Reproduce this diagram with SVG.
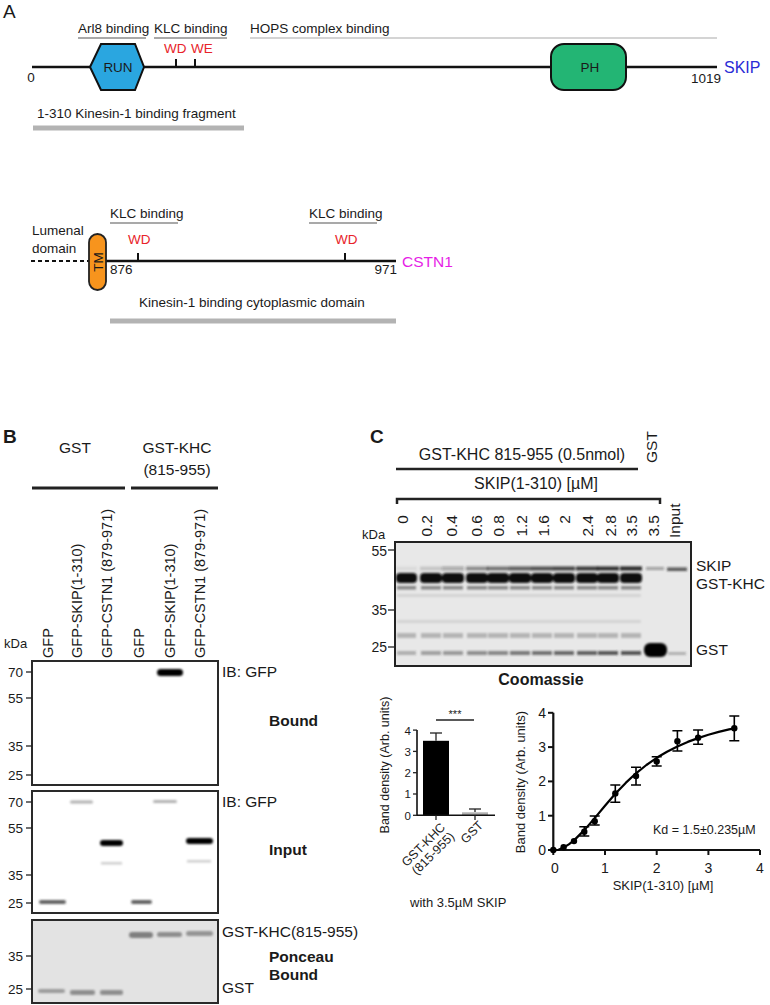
<svg xmlns="http://www.w3.org/2000/svg" width="770" height="1005" viewBox="0 0 770 1005">
<defs>
<style>
text{font-family:"Liberation Sans",Arial,sans-serif;fill:#1a1a1a}
.s12{font-size:12.5px}
.s13{font-size:13px}
.s135{font-size:13.5px}
.s14{font-size:14px}
.s155{font-size:15.5px}
.s16{font-size:16px}
.bold{font-weight:bold}
.red{fill:#e8232a}
.mid{text-anchor:middle}
.end{text-anchor:end}
.gline{stroke:#8c8c8c;stroke-width:1.3;fill:none}
.hline{stroke:#c6c6c6;stroke-width:1.6;fill:none}
.gbar{stroke:#b3b3b3;stroke-width:5;fill:none}
.main{stroke:#111;stroke-width:2.5;fill:none}
.tick{stroke:#111;stroke-width:2;fill:none}
.ax{stroke:#111;stroke-width:2;fill:none}
.thin{stroke:#222;stroke-width:1.3;fill:none}
.blot{fill:#fff;stroke:#2a2a2a;stroke-width:2}
.band{filter:url(#bl)}
</style>
<filter id="bl" x="-30%" y="-150%" width="160%" height="400%"><feGaussianBlur stdDeviation="1.1"/></filter>
</defs>

<!-- Panel A : SKIP -->
<g id="panelA-label"><text x="3" y="18" style="font-size:19px">A</text></g>
<g id="skip-protein">
  <text x="78" y="33" class="s135">Arl8 binding</text>
  <text x="154" y="33" class="s135">KLC binding</text>
  <text x="250" y="33" class="s135">HOPS complex binding</text>
  <line x1="78" y1="38" x2="146" y2="38" class="gline"/>
  <line x1="154" y1="38" x2="227" y2="38" class="gline"/>
  <line x1="250" y1="38" x2="717" y2="38" class="hline"/>
  <text x="164" y="53" class="s135 red">WD</text>
  <text x="191" y="53" class="s135 red">WE</text>
  <line x1="32" y1="67" x2="717" y2="67" class="main"/>
  <line x1="176" y1="59" x2="176" y2="67" class="tick"/>
  <line x1="195" y1="59" x2="195" y2="67" class="tick"/>
  <polygon points="90,67 101,44 135,44 144,67 135,90 101,90" fill="#2aa6e0" stroke="#111" stroke-width="2"/>
  <text x="118" y="72" class="s135 mid">RUN</text>
  <rect x="551" y="44" width="75" height="46" rx="13" fill="#23b574" stroke="#111" stroke-width="2"/>
  <text x="590" y="72" class="s135 mid">PH</text>
  <text x="31" y="82" class="s135 mid">0</text>
  <text x="721" y="83" class="s135 end">1019</text>
  <text x="724" y="73" class="s16" style="fill:#2b2bd6">SKIP</text>
  <text x="37" y="118" class="s135">1-310 Kinesin-1 binding fragment</text>
  <line x1="33" y1="128" x2="244" y2="128" class="gbar"/>
</g>

<!-- CSTN1 -->
<g id="cstn1-protein">
  <text x="110" y="218" class="s135">KLC binding</text>
  <text x="309" y="218" class="s135">KLC binding</text>
  <line x1="110" y1="223" x2="178" y2="223" class="gline"/>
  <line x1="309" y1="223" x2="377" y2="223" class="gline"/>
  <text x="32" y="235" class="s135">Lumenal</text>
  <text x="32" y="253" class="s135">domain</text>
  <text x="128" y="244" class="s135 red">WD</text>
  <text x="335" y="244" class="s135 red">WD</text>
  <line x1="31" y1="261" x2="89" y2="261" stroke="#111" stroke-width="2" stroke-dasharray="4,3"/>
  <line x1="106" y1="261" x2="396" y2="261" class="main"/>
  <line x1="138" y1="253" x2="138" y2="261" class="tick"/>
  <line x1="345" y1="253" x2="345" y2="261" class="tick"/>
  <rect x="89" y="234" width="17" height="56" rx="8.5" fill="#f7941d" stroke="#222" stroke-width="1.8"/>
  <text transform="translate(102.8,262) rotate(-90)" class="s135 mid">TM</text>
  <text x="110" y="274" class="s135">876</text>
  <text x="397" y="274" class="s135 end">971</text>
  <text x="402" y="267" class="s155" style="fill:#e61ee6">CSTN1</text>
  <text x="139" y="307" class="s135">Kinesin-1 binding cytoplasmic domain</text>
  <line x1="110" y1="321" x2="396" y2="321" class="gbar"/>
</g>

<!-- Panel B -->
<g id="panelB-header">
  <text x="3" y="443" class="bold" style="font-size:19px">B</text>
  <text x="75" y="453" class="s155 mid">GST</text>
  <text x="177" y="453" class="s155 mid">GST-KHC</text>
  <text x="177" y="475" class="s155 mid">(815-955)</text>
  <line x1="32" y1="488" x2="125" y2="488" stroke="#222" stroke-width="3"/>
  <line x1="131" y1="488" x2="218" y2="488" stroke="#222" stroke-width="3"/>
  <g style="font-size:14.5px">
    <text transform="translate(53,658) rotate(-90)">GFP</text>
    <text transform="translate(82,658) rotate(-90)">GFP-SKIP(1-310)</text>
    <text transform="translate(112,658) rotate(-90)">GFP-CSTN1 (879-971)</text>
    <text transform="translate(144,658) rotate(-90)">GFP</text>
    <text transform="translate(175,658) rotate(-90)">GFP-SKIP(1-310)</text>
    <text transform="translate(205,658) rotate(-90)">GFP-CSTN1 (879-971)</text>
  </g>
  <text x="4" y="648" class="s13">kDa</text>
</g>

<g id="blot-bound">
  <rect x="32" y="661" width="186" height="124" class="blot"/>
  <rect x="157" y="669" width="26" height="7" rx="3.5" fill="#000" class="band"/>
  <g class="thin">
    <line x1="26" y1="672" x2="32" y2="672"/><line x1="26" y1="698" x2="32" y2="698"/>
    <line x1="26" y1="746" x2="32" y2="746"/><line x1="26" y1="775" x2="32" y2="775"/>
  </g>
  <g class="s135 end">
    <text x="23" y="677">70</text><text x="23" y="703">55</text>
    <text x="23" y="751">35</text><text x="23" y="780">25</text>
  </g>
  <text x="222" y="677" class="s155">IB: GFP</text>
  <text x="269" y="726" class="s155 bold">Bound</text>
</g>

<g id="blot-input">
  <rect x="32" y="791" width="186" height="122" class="blot"/>
  <rect x="70" y="800.5" width="23" height="3" rx="1.5" fill="#555" opacity="0.45" class="band"/>
  <rect x="153" y="800" width="24" height="3" rx="1.5" fill="#555" opacity="0.45" class="band"/>
  <rect x="100" y="840" width="23" height="6" rx="3" fill="#000" class="band"/>
  <rect x="186" y="838" width="27" height="6" rx="3" fill="#000" class="band"/>
  <rect x="101" y="862" width="21" height="2.5" fill="#888" opacity="0.4" class="band"/>
  <rect x="187" y="860" width="24" height="2.5" fill="#888" opacity="0.4" class="band"/>
  <rect x="39" y="900" width="27" height="4" rx="2" fill="#333" opacity="0.75" class="band"/>
  <rect x="131" y="900" width="21" height="4" rx="2" fill="#333" opacity="0.75" class="band"/>
  <g class="thin">
    <line x1="26" y1="802" x2="32" y2="802"/><line x1="26" y1="828" x2="32" y2="828"/>
    <line x1="26" y1="875" x2="32" y2="875"/><line x1="26" y1="903" x2="32" y2="903"/>
  </g>
  <g class="s135 end">
    <text x="23" y="807">70</text><text x="23" y="833">55</text>
    <text x="23" y="880">35</text><text x="23" y="908">25</text>
  </g>
  <text x="222" y="807" class="s155">IB: GFP</text>
  <text x="269" y="855" class="s155 bold">Input</text>
</g>

<g id="blot-ponceau">
  <rect x="32" y="920" width="186" height="83" class="blot" style="fill:#e3e3e3"/>
  <rect x="129" y="932" width="24" height="6" rx="3" fill="#555" opacity="0.7" class="band"/>
  <rect x="157" y="932" width="25" height="5" rx="2.5" fill="#555" opacity="0.6" class="band"/>
  <rect x="186" y="931" width="27" height="5" rx="2.5" fill="#555" opacity="0.55" class="band"/>
  <rect x="38" y="989" width="27" height="4" rx="2" fill="#555" opacity="0.5" class="band"/>
  <rect x="70" y="990" width="25" height="5" rx="2" fill="#555" opacity="0.6" class="band"/>
  <rect x="100" y="990" width="23" height="5" rx="2" fill="#555" opacity="0.6" class="band"/>
  <g class="thin">
    <line x1="26" y1="956" x2="32" y2="956"/><line x1="26" y1="989" x2="32" y2="989"/>
  </g>
  <g class="s135 end">
    <text x="23" y="961">35</text><text x="23" y="994">25</text>
  </g>
  <text x="222" y="937" class="s155">GST-KHC(815-955)</text>
  <text x="269" y="962" class="s155 bold">Ponceau</text>
  <text x="269" y="980" class="s155 bold">Bound</text>
  <text x="222" y="993" class="s155">GST</text>
</g>

<!-- Panel C -->
<g id="panelC-header">
  <text x="370" y="443" class="bold" style="font-size:19px">C</text>
  <text x="522" y="460" class="s16 mid">GST-KHC 815-955 (0.5nmol)</text>
  <line x1="396" y1="469" x2="638" y2="469" stroke="#222" stroke-width="2.5"/>
  <text transform="translate(656.5,463) rotate(-90)" class="s155">GST</text>
  <text x="536" y="489" class="s16 mid">SKIP(1-310) [µM]</text>
  <path d="M397,504 V499 H660 V504" stroke="#222" stroke-width="2.5" fill="none"/>
  <g class="s155 end">
    <text transform="translate(407.5,515) rotate(-90)">0</text>
    <text transform="translate(431.5,515) rotate(-90)">0.2</text>
    <text transform="translate(456.5,515) rotate(-90)">0.4</text>
    <text transform="translate(481.5,515) rotate(-90)">0.6</text>
    <text transform="translate(503.5,515) rotate(-90)">0.8</text>
    <text transform="translate(526.5,515) rotate(-90)">1.2</text>
    <text transform="translate(548.5,515) rotate(-90)">1.6</text>
    <text transform="translate(569.5,515) rotate(-90)">2</text>
    <text transform="translate(592.5,515) rotate(-90)">2.4</text>
    <text transform="translate(615.5,515) rotate(-90)">2.8</text>
    <text transform="translate(636.5,515) rotate(-90)">3.5</text>
    <text transform="translate(658.5,515) rotate(-90)">3.5</text>
  </g>
  <text transform="translate(680,538) rotate(-90)" class="s155">Input</text>
  <text x="362" y="539" class="s13">kDa</text>
</g>

<g id="gel-coomassie">
  <rect x="395" y="542" width="296" height="124" fill="#e8e8e8" stroke="#222" stroke-width="2"/>
  <g fill="#1a1a1a" class="band">
    <rect x="396" y="566.5" width="21" height="4" opacity="0.06"/>
    <rect x="420" y="566.5" width="22" height="4" opacity="0.15"/>
    <rect x="442" y="566.5" width="22" height="4" opacity="0.3"/>
    <rect x="466" y="566.5" width="22" height="4" opacity="0.45"/>
    <rect x="487" y="566.5" width="22" height="4" opacity="0.55"/>
    <rect x="509" y="566.5" width="22" height="4" opacity="0.68"/>
    <rect x="531" y="566.5" width="22" height="4" opacity="0.75"/>
    <rect x="553" y="566.5" width="22" height="4" opacity="0.8"/>
    <rect x="576" y="566.5" width="22" height="4" opacity="0.85"/>
    <rect x="597" y="566.5" width="22" height="4" opacity="0.9"/>
    <rect x="620" y="566.5" width="22" height="4" opacity="0.95"/>
    <rect x="646" y="567" width="18" height="3" opacity="0.35"/>
    <rect x="667" y="567.5" width="20" height="3.5" opacity="0.7"/>
  </g>
  <g fill="#111" class="band">
    <rect x="396" y="573" width="21" height="10" rx="4"/>
    <rect x="420" y="573" width="22" height="10" rx="4"/>
    <rect x="442" y="573" width="22" height="10" rx="4"/>
    <rect x="466" y="573" width="22" height="10" rx="4"/>
    <rect x="487" y="573" width="22" height="10" rx="4"/>
    <rect x="509" y="573" width="22" height="10" rx="4"/>
    <rect x="531" y="573" width="22" height="10" rx="4"/>
    <rect x="553" y="573" width="22" height="10" rx="4"/>
    <rect x="576" y="573" width="22" height="10" rx="4"/>
    <rect x="597" y="573" width="22" height="10" rx="4"/>
    <rect x="620" y="573" width="22" height="10" rx="4"/>
  </g>
  <g fill="#444" class="band" opacity="0.6">
    <rect x="397" y="586" width="19" height="3.5"/><rect x="421" y="586" width="20" height="3.5"/>
    <rect x="443" y="586" width="20" height="3.5"/><rect x="467" y="586" width="20" height="3.5"/>
    <rect x="488" y="586" width="20" height="3.5"/><rect x="510" y="586" width="20" height="3.5"/>
    <rect x="532" y="586" width="20" height="3.5"/><rect x="554" y="586" width="20" height="3.5"/>
    <rect x="577" y="586" width="20" height="3.5"/><rect x="598" y="586" width="20" height="3.5"/>
    <rect x="621" y="586" width="20" height="3.5"/>
  </g>
  <g fill="#666" class="band" opacity="0.15">
    <rect x="397" y="594" width="244" height="3"/>
    <rect x="397" y="620" width="244" height="3"/>
  </g>
  <g fill="#777" class="band" opacity="0.45">
    <rect x="397" y="633" width="19" height="5"/><rect x="421" y="633" width="20" height="5"/>
    <rect x="443" y="633" width="20" height="5"/><rect x="467" y="633" width="20" height="5"/>
    <rect x="488" y="633" width="20" height="5"/><rect x="510" y="633" width="20" height="5"/>
    <rect x="532" y="633" width="20" height="5"/><rect x="554" y="633" width="20" height="5"/>
    <rect x="577" y="633" width="20" height="5"/><rect x="598" y="633" width="20" height="5"/>
    <rect x="621" y="633" width="20" height="5"/>
  </g>
  <g fill="#333" class="band">
    <rect x="397" y="651" width="19" height="4" opacity="0.3"/>
    <rect x="421" y="651" width="20" height="4" opacity="0.4"/>
    <rect x="443" y="651" width="20" height="4" opacity="0.45"/>
    <rect x="467" y="651" width="20" height="4" opacity="0.5"/>
    <rect x="488" y="651" width="20" height="4" opacity="0.55"/>
    <rect x="510" y="651" width="20" height="4" opacity="0.62"/>
    <rect x="532" y="651" width="20" height="4" opacity="0.66"/>
    <rect x="554" y="651" width="20" height="4" opacity="0.7"/>
    <rect x="577" y="651" width="20" height="4" opacity="0.74"/>
    <rect x="598" y="651" width="20" height="4" opacity="0.8"/>
    <rect x="621" y="651" width="20" height="4" opacity="0.82"/>
    <rect x="668" y="652" width="18" height="3" opacity="0.3"/>
  </g>
  <rect x="644" y="643" width="23" height="14" rx="6" fill="#000" class="band"/>
  <g class="thin">
    <line x1="388" y1="550" x2="395" y2="550"/><line x1="388" y1="610" x2="395" y2="610"/>
    <line x1="388" y1="647" x2="395" y2="647"/>
  </g>
  <g class="s14 end">
    <text x="387" y="555.5">55</text><text x="387" y="615">35</text><text x="387" y="652">25</text>
  </g>
  <text x="696" y="571" class="s155">SKIP</text>
  <text x="696" y="589" class="s155">GST-KHC</text>
  <text x="696" y="655" class="s155">GST</text>
  <text x="541" y="685" class="s16 bold mid">Coomassie</text>
</g>

<g id="bar-chart">
  <rect x="423" y="740.8" width="26" height="74.5" fill="#000"/>
  <rect x="462" y="812.3" width="26" height="3" fill="#b0b0b0"/>
  <g class="thin">
    <line x1="436" y1="740.8" x2="436" y2="733"/><line x1="430" y1="733" x2="442" y2="733"/>
    <line x1="475" y1="812" x2="475" y2="809"/><line x1="469" y1="809" x2="481" y2="809"/>
    <line x1="436" y1="720" x2="474" y2="720"/>
  </g>
  <text x="455" y="718" class="mid" style="font-size:11px">***</text>
  <path d="M417,730 V815.3 H495" class="ax" style="stroke-width:1.6"/>
  <g class="thin">
    <line x1="413" y1="815.3" x2="417" y2="815.3"/><line x1="413" y1="794" x2="417" y2="794"/>
    <line x1="413" y1="772.7" x2="417" y2="772.7"/><line x1="413" y1="751.4" x2="417" y2="751.4"/>
    <line x1="413" y1="730.1" x2="417" y2="730.1"/>
    <line x1="436" y1="815.3" x2="436" y2="820"/><line x1="475" y1="815.3" x2="475" y2="820"/>
  </g>
  <g class="end" style="font-size:11.5px">
    <text x="411" y="819.5">0</text><text x="411" y="798">1</text><text x="411" y="777">2</text>
    <text x="411" y="755.5">3</text><text x="411" y="734.5">4</text>
  </g>
  <text transform="translate(389,765) rotate(-90)" class="s12 mid">Band density (Arb. units)</text>
  <g class="s12 end" transform="translate(446,828) rotate(-45)">
    <text x="0" y="0">GST-KHC</text>
    <text x="0" y="13">(815-955)</text>
  </g>
  <text transform="translate(484,826) rotate(-45)" class="s12 end">GST</text>
  <text x="410" y="907" class="s13">with 3.5µM SKIP</text>
</g>

<g id="binding-curve">
  <path d="M553.3,712.8 V850 H760" class="ax" style="stroke-width:2.2"/>
  <g class="tick">
    <line x1="548" y1="850" x2="553.3" y2="850"/><line x1="548" y1="815.7" x2="553.3" y2="815.7"/>
    <line x1="548" y1="781.4" x2="553.3" y2="781.4"/><line x1="548" y1="747.1" x2="553.3" y2="747.1"/>
    <line x1="548" y1="712.8" x2="553.3" y2="712.8"/>
    <line x1="553.3" y1="850" x2="553.3" y2="855"/><line x1="605" y1="850" x2="605" y2="855"/>
    <line x1="656.7" y1="850" x2="656.7" y2="855"/><line x1="708.4" y1="850" x2="708.4" y2="855"/>
    <line x1="760" y1="850" x2="760" y2="855"/>
  </g>
  <g class="s14 end">
    <text x="546" y="855">0</text><text x="546" y="820.7">1</text><text x="546" y="786.4">2</text>
    <text x="546" y="752.1">3</text><text x="546" y="717.8">4</text>
  </g>
  <g class="s14 mid">
    <text x="555" y="873">0</text><text x="605" y="873">1</text><text x="656.7" y="873">2</text>
    <text x="708.4" y="873">3</text><text x="760" y="873">4</text>
  </g>
  <text transform="translate(525,782) rotate(-90)" class="s13 mid">Band density (Arb. units)</text>
  <text x="663" y="890" class="s13 mid">SKIP(1-310) [µM]</text>
  <text x="653" y="834" class="s12">Kd = 1.5±0.235µM</text>
  <polyline points="553.3,850 558.5,849.8 563.6,847.5 568.8,844.4 574.0,840.4 584.3,830.1 594.7,818.1 605.0,805.7 615.3,793.8 625.7,782.9 636.0,773.3 646.4,765.0 656.7,757.8 667.0,751.7 677.4,746.4 687.7,741.9 698.1,738.1 708.4,734.8 718.7,731.9 729.1,729.4 734.3,728.3" fill="none" stroke="#000" stroke-width="2.2" stroke-linejoin="round"/>
  <g stroke="#000" stroke-width="1.6" fill="none">
    <path d="M584.3,826.7 V836 M579.3,826.7 H589.3 M579.3,836 H589.3"/>
    <path d="M594.7,816 V825 M589.7,816 H599.7 M589.7,825 H599.7"/>
    <path d="M615.3,785 V802.3 M610.3,785 H620.3 M610.3,802.3 H620.3"/>
    <path d="M636,767.3 V785 M631,767.3 H641 M631,785 H641"/>
    <path d="M656.7,756.7 V766 M651.7,756.7 H661.7 M651.7,766 H661.7"/>
    <path d="M677.4,730.7 V751 M672.4,730.7 H682.4 M672.4,751 H682.4"/>
    <path d="M698.1,730 V744.3 M693.1,730 H703.1 M693.1,744.3 H703.1"/>
    <path d="M734.3,716 V740.7 M729.3,716 H739.3 M729.3,740.7 H739.3"/>
  </g>
  <g fill="#000">
    <circle cx="553.3" cy="850" r="3.2"/><circle cx="563.6" cy="847.3" r="3.2"/>
    <circle cx="574" cy="841.1" r="3.2"/><circle cx="584.3" cy="831.8" r="3.2"/>
    <circle cx="594.7" cy="821.2" r="3.2"/><circle cx="615.3" cy="793.4" r="3.2"/>
    <circle cx="636" cy="776" r="3.2"/><circle cx="656.7" cy="761.5" r="3.2"/>
    <circle cx="677.4" cy="741.3" r="3.2"/><circle cx="698.1" cy="737.8" r="3.2"/>
    <circle cx="734.3" cy="728.2" r="3.2"/>
  </g>
</g>
</svg>
